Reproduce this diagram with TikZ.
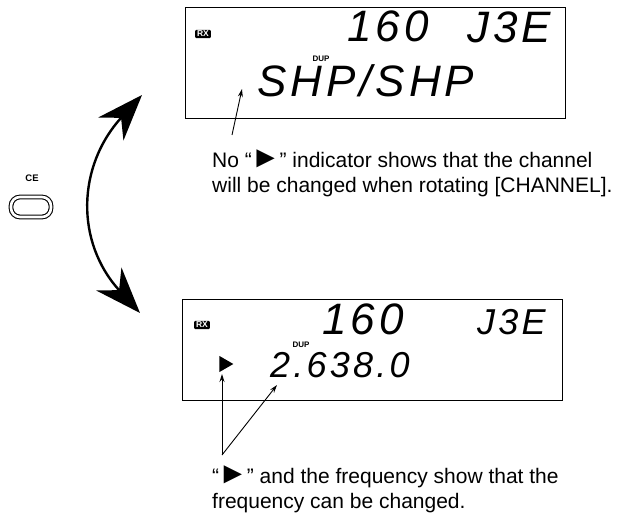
\documentclass[tikz,border=0pt]{standalone}
\usepackage{fontspec}
\usepackage{graphicx}
\setmainfont{Liberation Sans}
\newfontfamily\lcd[LetterSpace=9]{Liberation Sans}
\newcommand{\tri}{\kern-1.2pt\scalebox{1.45}{►}\kern-1.2pt}
\usetikzlibrary{arrows.meta,shapes.geometric}
\begin{document}
\begin{tikzpicture}[x=1pt,y=-1pt,
  lcdbox/.style={draw, line width=1.2pt, anchor=north west, inner sep=0pt},
  rx/.style={fill=black, text=white, font=\bfseries\fontsize{8.5}{8.5}\selectfont, rounded corners=1.2pt, inner xsep=2pt, inner ysep=1.2pt},
  dup/.style={font=\bfseries\fontsize{8}{8}\selectfont, inner sep=0pt},
  lcdbig/.style={font=\lcd\itshape\fontsize{44}{44}\selectfont, anchor=base west, inner sep=0pt},
  lcdmid/.style={font=\lcd\itshape\fontsize{36}{36}\selectfont, anchor=base west, inner sep=0pt},
  note/.style={font=\fontsize{21}{25}\selectfont, anchor=base west, inner sep=0pt},
  ptr/.style={line width=0.9pt, -{Stealth[length=8pt,width=5pt]}},
  bigarrow/.style={line width=2.4pt, {Stealth[length=46pt,width=34pt,inset=15pt]}-{Stealth[length=46pt,width=34pt,inset=15pt]}}
]
\useasboundingbox (0,0) rectangle (622,513);

% ---- top LCD ----
\node[lcdbox, minimum width=380pt, minimum height=111pt] (lcdA) at (185,7) {};
\node[rx] (rxA) at (203,34) {RX};
\node[dup] (dupA) at (321,59) {DUP};
\node[lcdbig] (chA) at (347,42) {160};
\node[lcdbig] (modeA) at (467,43) {J3E};
\node[lcdbig] (shpA) at (257,97) {SHP/SHP};

% ---- bottom LCD ----
\node[lcdbox, minimum width=380pt, minimum height=101pt] (lcdB) at (182,299) {};
\node[rx] (rxB) at (202,325) {RX};
\node[dup] (dupB) at (301,345) {DUP};
\node[lcdbig] (chB) at (322,335) {160};
\node[lcdmid] (modeB) at (477,335) {J3E};
\node[isosceles triangle, fill=black, inner sep=0pt, minimum height=14pt, minimum width=13pt, isosceles triangle apex angle=60] (tri) at (224,364) {};
\node[lcdmid] (freq) at (270,378) {2.638.0};

% ---- notes ----
\node[note] (noteA1) at (212,168) {No “\tri” indicator shows that the channel};
\node[note] (noteA2) at (212,193) {will be changed when rotating [CHANNEL].};
\node[note] (noteB1) at (212,483) {“\tri” and the frequency show that the};
\node[note] (noteB2) at (212,508) {frequency can be changed.};

% ---- pointers ----
\coordinate (pA) at (232,135);
\coordinate (tipA) at (242,89);
\draw[ptr] (pA) -- (tipA);
\coordinate (pB) at (222,455);
\coordinate (tipB1) at (222,374);
\coordinate (tipB2) at (277,385);
\draw[ptr] (pB) -- (tipB1);
\draw[ptr] (pB) -- (tipB2);

% ---- CE key ----
\node[font=\bfseries\fontsize{9.5}{9.5}\selectfont, inner sep=0pt] (celbl) at (32,178) {CE};
\node[draw, double, double distance=2.6pt, line width=1.1pt, rounded corners=9pt, minimum width=40pt, minimum height=20pt] (ce) at (31,207) {};

% ---- curved double arrow ----
\coordinate (up) at (142,95);
\coordinate (dn) at (140,313);
\draw[bigarrow] (dn) .. controls (75,242) and (77,166) .. (up);
\end{tikzpicture}
\end{document}
